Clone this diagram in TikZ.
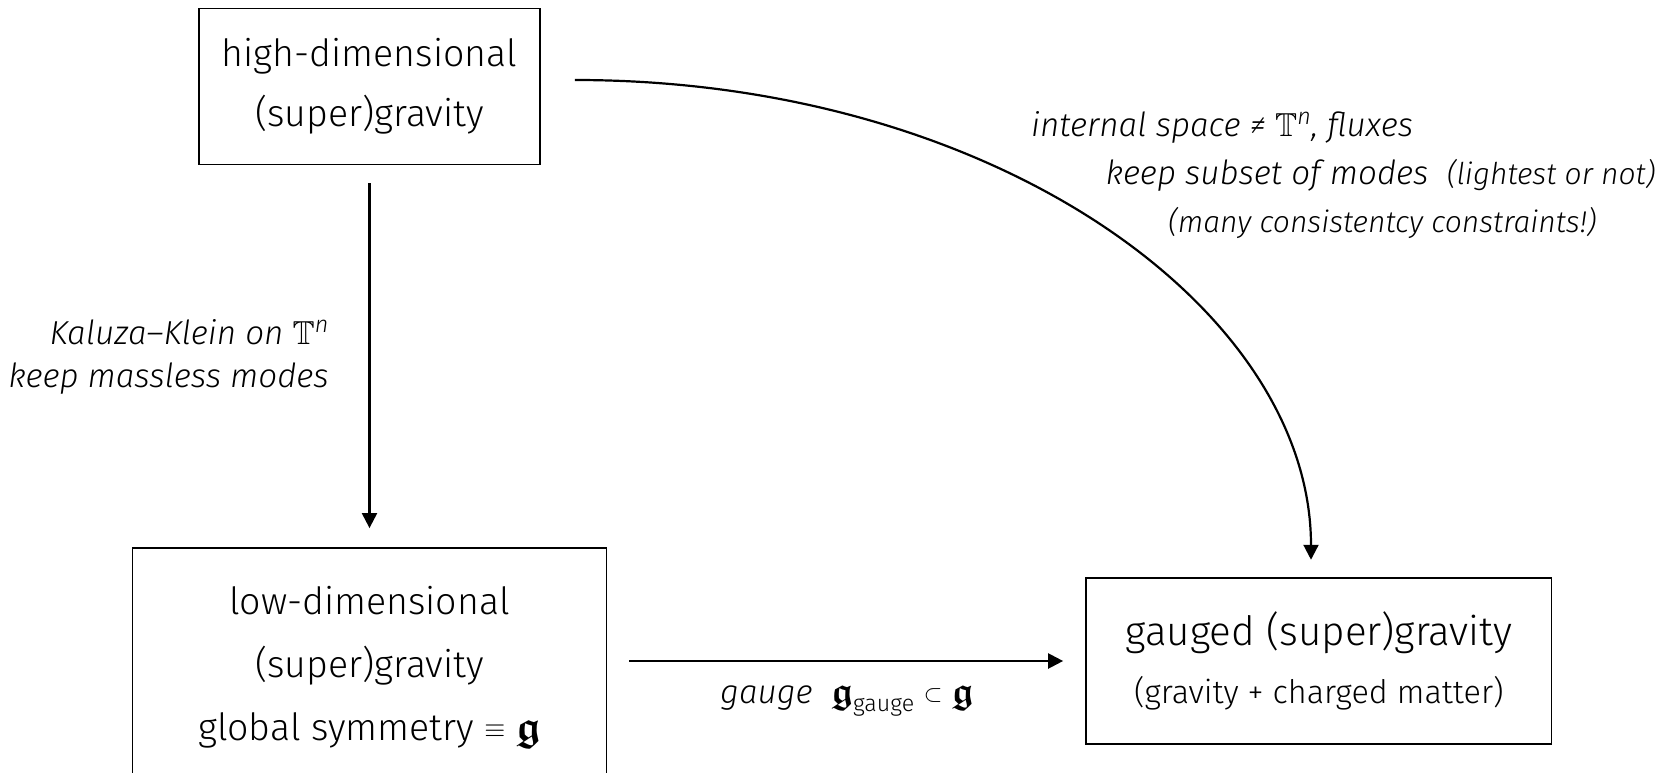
\RequirePackage{fix-cm}
\documentclass[tikz,border=0pt]{standalone}
\usepackage{amsmath,amssymb}
\DeclareFontFamily{U}{msb}{}
\DeclareFontShape{U}{msb}{m}{n}{<-6> msbm5 <6-8> msbm7 <8-> msbm10}{}
\DeclareFontFamily{U}{euf}{}
\DeclareFontShape{U}{euf}{m}{n}{<-6> eufm5 <6-8> eufm7 <8-> eufm10}{}
\DeclareFontShape{U}{euf}{b}{n}{<-6> eufb5 <6-8> eufb7 <8-> eufb10}{}
\usepackage{fontspec}
\IfFontExistsTF{Fira Sans Light}{\setmainfont{Fira Sans Light}}{\setmainfont{Fira Sans}}
\newcommand\fg{\text{\scalebox{1.12}{\usefont{U}{euf}{b}{n}g}}}
\newcommand\smallrel[1]{\raisebox{0.06em}{\scalebox{0.72}{$#1$}}}
\usetikzlibrary{arrows.meta,calc}
\begin{document}
\begin{tikzpicture}[x=1pt,y=-1pt,
  box/.style={draw, line width=1.8pt, inner sep=0pt, align=center},
  arr/.style={line width=2.2pt, -{Triangle[width=15pt,length=15pt]}},
  lbl/.style={inner sep=0pt, font=\itshape\fontsize{33.2}{47}\selectfont},
  lblsmall/.style={inner sep=0pt, font=\itshape\fontsize{30}{40}\selectfont}]
\useasboundingbox (0,0) rectangle (1665,773);
\node[box, minimum width=341pt, minimum height=156pt, font=\fontsize{37.5}{60}\selectfont] (hd) at (369.5,86.5) {high-dimensional\\(super)gravity};
\node[box, minimum width=474pt, minimum height=238pt, font=\fontsize{37.5}{63}\selectfont] (ld) at (369.5,667) {low-dimensional\\(super)gravity\\global symmetry \smallrel{\equiv} $\fg$};
\node[box, minimum width=465.5pt, minimum height=166.7pt, font=\fontsize{40.4}{58}\selectfont] (gg) at (1318.8,661) {gauged (super)gravity\\{\fontsize{32.4}{38}\selectfont (gravity + charged matter)}};
\draw[arr, shorten <=18pt, shorten >=19pt] (hd.south) -- (ld.north);
\draw[arr, shorten <=22pt, shorten >=22pt] (ld.east |- gg.west) -- (gg.west);
\draw[arr] ($(hd.east)+(34,-6.5)$) .. controls +(420,0) and +(0,-250) .. ($(gg.north)+(-7.8,-17)$);
\node[lbl, anchor=east] (kk) at (329,332) {Kaluza--Klein on $\mathbb{T}^{\textit{n}}$};
\node[lbl, anchor=east] (km) at (329,379) {keep massless modes};
\node[lbl, anchor=west] (is) at (1031,127) {internal space ≠ $\mathbb{T}^{\textit{n}}$, fluxes};
\node[lbl, anchor=west] (ks) at (1105.5,175) {keep subset of modes\ \ {\fontsize{30}{40}\selectfont(lightest or not)}};
\node[lblsmall, anchor=west] (mc) at (1168,223) {(many consistentcy constraints!)};
\node[lbl, anchor=center] (gl) at (847,701) {gauge\ \ $\fg_{\textup{gauge}}$ \smallrel{\subset} $\fg$};
\end{tikzpicture}
\end{document}
